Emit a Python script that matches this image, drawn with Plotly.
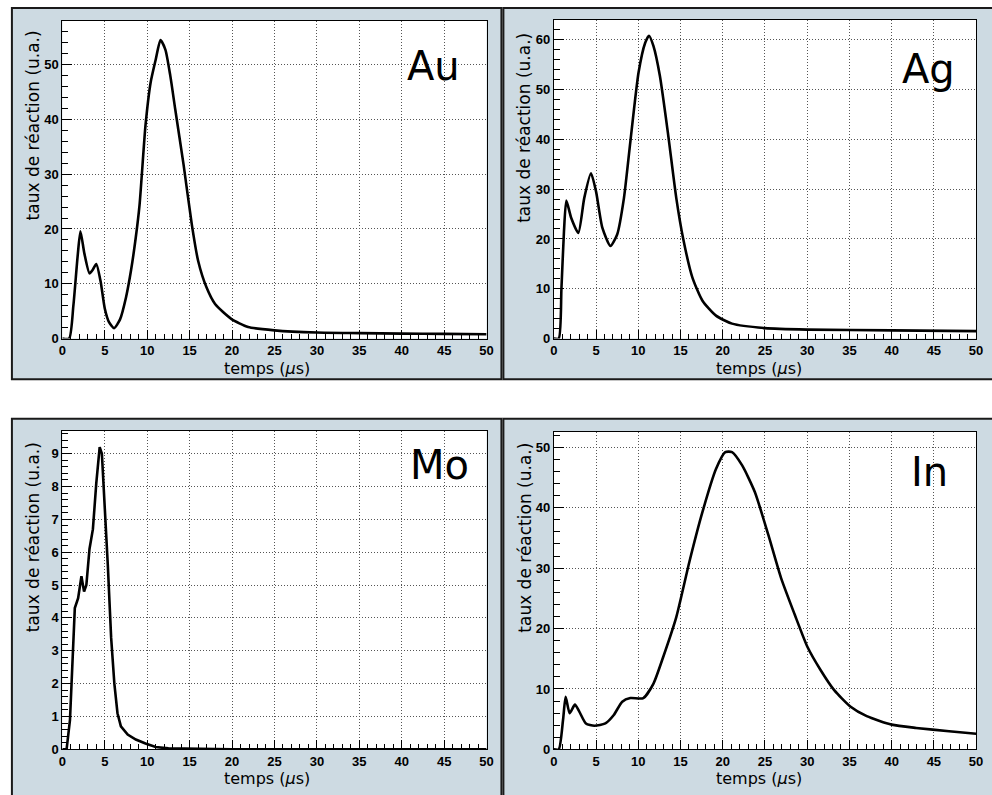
import plotly.graph_objects as go

W, H = 992, 795

# ---------------- data ----------------
au_t = [0.0, 0.8, 1.3, 1.8, 2.13, 2.6, 3.2, 3.6, 4.0, 4.5, 5.0, 5.5, 6.1, 6.8, 7.5, 8.1, 8.65, 9.1, 9.8, 10.4, 11.0, 11.57, 12.15, 12.73, 13.3, 14.3, 15.26, 16.0, 17.0, 18.0, 19.9, 21.9, 25.0, 30.0, 35.0, 40.0, 45.0, 50.0]
au_y = [0.0, 0.0, 6.0, 15.0, 19.6, 15.5, 11.9, 12.6, 13.6, 10.5, 5.5, 3.0, 1.9, 3.5, 7.5, 12.5, 18.4, 24.4, 38.9, 46.7, 50.9, 54.5, 52.7, 47.9, 41.9, 31.6, 20.8, 14.2, 9.3, 6.3, 3.6, 2.1, 1.5, 1.1, 1.0, 0.9, 0.85, 0.8]

ag_t = [0.0, 0.58, 0.9, 1.2, 1.48, 2.06, 2.9, 3.6, 4.4, 5.0, 5.75, 6.7, 7.5, 8.3, 9.06, 10.03, 10.8, 11.27, 11.8, 12.56, 13.5, 14.5, 15.3, 16.4, 17.6, 19.2, 21.1, 25.0, 30.0, 40.0, 50.0]
ag_y = [0.0, 0.0, 10.0, 21.5, 27.7, 24.2, 21.2, 28.2, 33.2, 29.5, 22.2, 18.6, 20.9, 28.2, 39.5, 53.4, 59.3, 60.8, 58.7, 52.7, 41.4, 28.2, 20.2, 12.3, 7.6, 4.6, 3.0, 2.1, 1.8, 1.65, 1.5]

mo_t = [0.0, 0.5, 0.9, 1.28, 1.47, 1.86, 2.25, 2.56, 2.83, 3.2, 3.6, 4.0, 4.4, 4.66, 4.97, 5.36, 5.75, 6.13, 6.5, 6.9, 7.7, 8.66, 9.8, 11.0, 12.5, 16.4, 20.0, 50.0]
mo_y = [0.0, 0.0, 0.9, 3.2, 4.3, 4.6, 5.27, 4.8, 5.0, 6.1, 6.7, 8.1, 9.2, 9.0, 7.6, 5.6, 3.4, 2.0, 1.1, 0.7, 0.45, 0.3, 0.18, 0.07, 0.03, 0.01, 0.0, 0.0]

in_t = [0.0, 0.58, 1.09, 1.4, 1.87, 2.5, 3.0, 3.8, 4.8, 6.1, 7.1, 8.1, 9.06, 10.6, 11.8, 12.95, 14.5, 16.06, 17.6, 19.2, 20.3, 21.1, 22.3, 23.8, 25.4, 26.9, 28.5, 30.05, 31.6, 33.2, 35.1, 37.05, 40.0, 42.9, 46.8, 50.0]
in_y = [0.0, 0.0, 4.9, 8.7, 6.0, 7.4, 6.3, 4.3, 3.9, 4.3, 5.7, 7.9, 8.5, 8.5, 10.9, 15.3, 21.9, 31.1, 39.3, 46.4, 49.2, 49.2, 47.0, 42.6, 35.5, 28.4, 22.4, 16.9, 13.1, 9.8, 7.1, 5.5, 4.1, 3.55, 3.0, 2.6]

elements = ["Au", "Ag", "Mo", "In"]
y_max = [58, 64, 9.7, 52.6]
y_major = [10, 10, 1, 10]
y_minor = [2, 2, 0.2, 2]
x_title = "temps (<i>μ</i>s)"
y_title = "taux de réaction (u.a.)"

series = [(au_t, au_y, "spline"), (ag_t, ag_y, "spline"), (mo_t, mo_y, "linear"), (in_t, in_y, "spline")]

# ---------------- layout geometry (pixels) ----------------
pads = [(8, 8, 503, 383), (505, 8, 1010, 383), (8, 423, 503, 815), (505, 423, 1010, 815)]
plots = [(59, 21, 488, 342), (556, 20, 983, 342), (59, 435, 488, 757), (556, 436, 983, 757)]
elem_pos = [(434, 67), (935, 70), (440, 470), (936, 477)]
ytitle_pos = [(29, 127), (526, 129), (29, 543), (526, 543)]
xtitle_pos = [(266, 372), (763, 372), (266, 786), (763, 786)]

PAD = "#cddae2"
TITLE_FONT = "Comic Sans MS, DejaVu Sans, sans-serif"
TICK_FONT = dict(family="Liberation Sans, Arial, sans-serif", size=13, color="black", weight="bold")

def px(x):
    return x / W

def py(y):
    return 1 - y / H

fig = go.Figure()
shapes = []
annotations = []

for i in range(4):
    t, y, shp = series[i]
    ax = "" if i == 0 else str(i + 1)
    fig.add_trace(go.Scatter(
        x=t, y=y, mode="lines", xaxis="x" + ax, yaxis="y" + ax,
        line=dict(color="black", width=2.6, shape=shp, smoothing=0.6),
        showlegend=False, hoverinfo="x+y"))

    x0, y0, x1, y1 = pads[i]
    shapes.append(dict(type="rect", xref="paper", yref="paper", layer="below",
                       x0=px(x0), x1=px(x1), y0=py(y1), y1=py(y0),
                       fillcolor=PAD, line=dict(color="#1a1a1a", width=2)))
    a0, b0, a1, b1 = plots[i]
    shapes.append(dict(type="rect", xref="paper", yref="paper", layer="below",
                       x0=px(a0), x1=px(a1), y0=py(b1), y1=py(b0),
                       fillcolor="white", line=dict(width=0)))

    axis_common = dict(showline=True, linecolor="black", linewidth=1, mirror=True,
                       ticks="inside", tickcolor="black", tickwidth=1,
                       showgrid=True, gridcolor="#555555", griddash="1px,2px", gridwidth=1,
                       zeroline=False, tickfont=TICK_FONT)
    fig.update_layout(**{
        "xaxis" + ax: dict(domain=[px(a0), px(a1)], range=[0, 50], dtick=5, tick0=0,
                           ticklen=9, anchor="y" + ax,
                           minor=dict(dtick=1, ticklen=5, ticks="inside", tickcolor="black", showgrid=False),
                           **axis_common),
        "yaxis" + ax: dict(domain=[py(b1), py(b0)], range=[0, y_max[i]], dtick=y_major[i], tick0=0,
                           ticklen=10, anchor="x" + ax,
                           minor=dict(dtick=y_minor[i], ticklen=6, ticks="inside", tickcolor="black", showgrid=False),
                           **axis_common),
    })

    ex, ey = elem_pos[i]
    annotations.append(dict(text=elements[i], xref="paper", yref="paper", x=px(ex), y=py(ey),
                             xanchor="center", yanchor="middle", showarrow=False,
                             font=dict(family=TITLE_FONT, size=40, color="black")))
    tx, ty = ytitle_pos[i]
    annotations.append(dict(text=y_title, xref="paper", yref="paper", x=px(tx), y=py(ty),
                             xanchor="center", yanchor="middle", showarrow=False, textangle=-90,
                             font=dict(family=TITLE_FONT, size=17, color="black")))
    tx, ty = xtitle_pos[i]
    annotations.append(dict(text=x_title, xref="paper", yref="paper", x=px(tx), y=py(ty),
                             xanchor="center", yanchor="middle", showarrow=False,
                             font=dict(family=TITLE_FONT, size=16, color="black")))

fig.update_layout(width=W, height=H, margin=dict(l=0, r=0, t=0, b=0),
                  paper_bgcolor="white", plot_bgcolor="rgba(0,0,0,0)",
                  shapes=shapes, annotations=annotations)

fig.write_html("out.html", config={"displayModeBar": False},
               post_script="document.body.style.margin='0';document.body.style.overflow='hidden';")
